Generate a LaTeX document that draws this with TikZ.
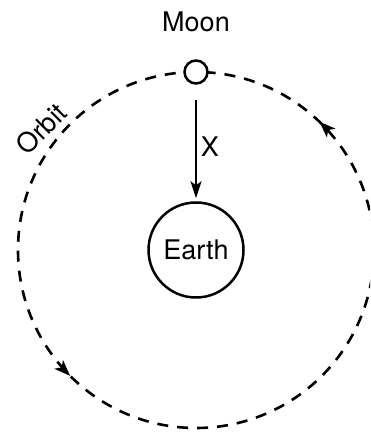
\documentclass[tikz,border=0pt]{standalone}
\usepackage{fontspec}
\setmainfont{TeX Gyre Heros}
\usetikzlibrary{arrows.meta,decorations.markings}
\begin{document}
\begin{tikzpicture}[x=1pt,y=1pt,
  lbl/.style={font=\fontsize{27}{32}\selectfont, inner sep=0pt},
  orbitline/.style={line width=2.6pt, dash pattern=on 11pt off 9pt},
  body/.style={circle, draw, line width=2.5pt, inner sep=0pt},
  ]
\useasboundingbox (0,0) rectangle (370,433);
\clip (0,0) rectangle (370,433);
\coordinate (oc) at (196,183);
\draw[orbitline, postaction={decorate}, decoration={markings,
    mark=at position 0.128 with {\arrow{Stealth[length=16pt,width=12pt,inset=4pt]}},
    mark=at position 0.625 with {\arrow{Stealth[length=16pt,width=12pt,inset=4pt]}}}]
  (oc) circle[radius=178];
\node[body, fill=white, minimum size=23pt] (moon) at (196,361) {};
\node[lbl] (moonlabel) at (196,411) {Moon};
\node[body, minimum size=95pt, font=\fontsize{27}{32}\selectfont] (earth) at (196,183) {Earth};
\coordinate (xtop) at (196,333);
\draw[line width=2pt, -{Stealth[length=17pt,width=11pt,inset=4pt]}, shorten >=3pt] (xtop) -- (earth.north);
\node[lbl] (xlabel) at (210,286) {X};
\node[lbl, rotate=45] (orbitlabel) at (41,304) {Orbit};
\end{tikzpicture}
\end{document}
